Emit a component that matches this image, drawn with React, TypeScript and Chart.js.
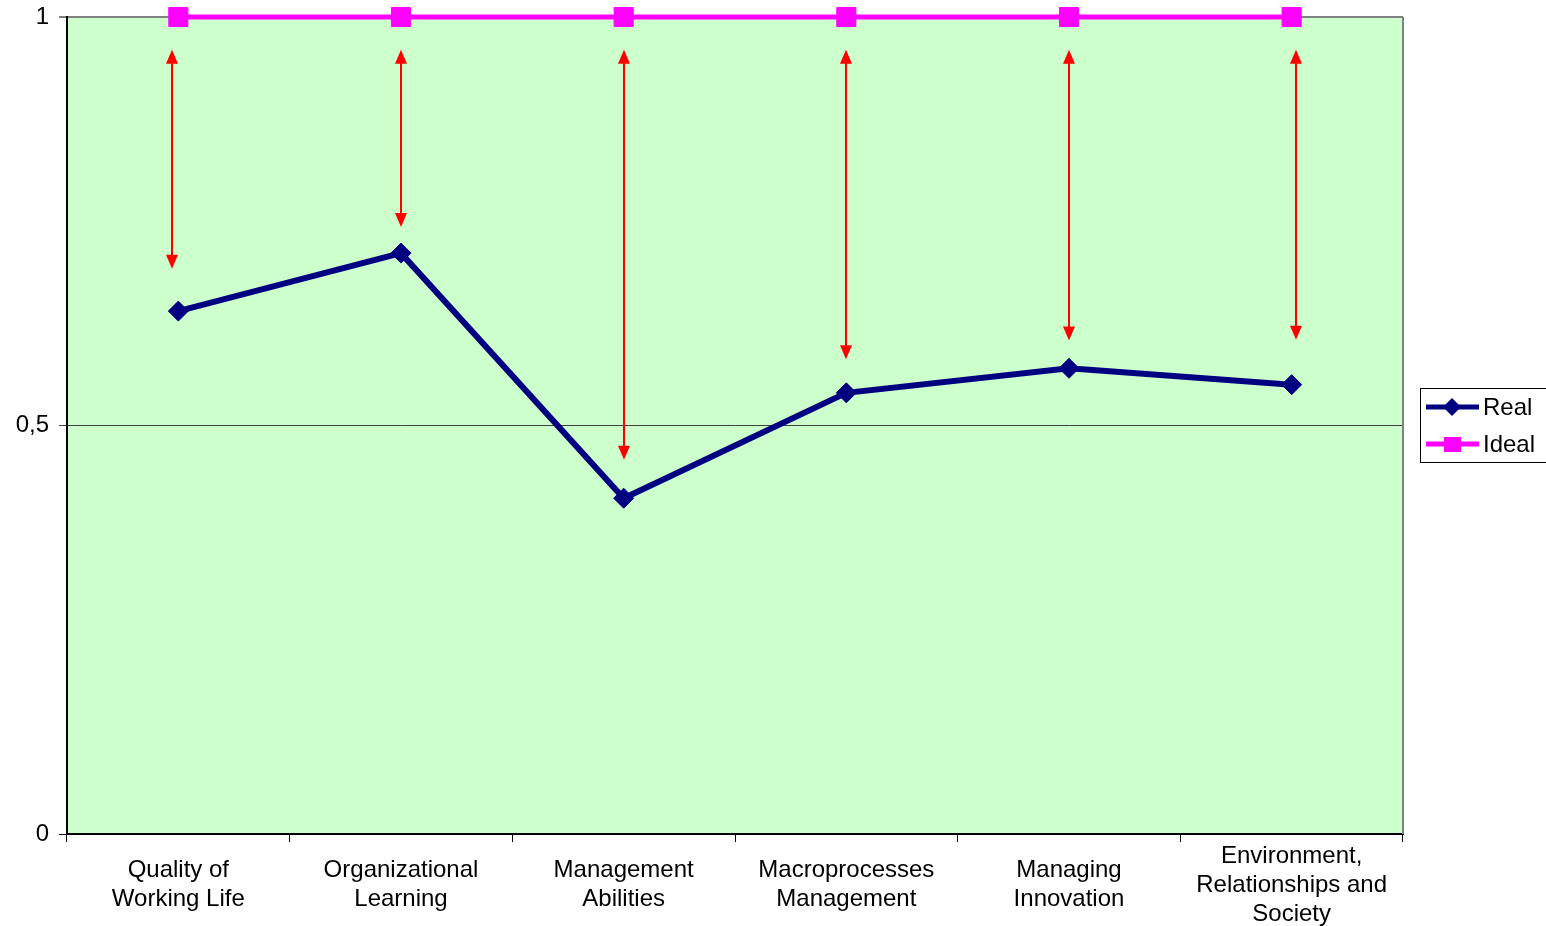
import React, { useEffect, useRef } from "react";
import { Chart, registerables } from "chart.js";

Chart.register(...registerables);

const categories: string[][] = [
  ["Quality of", "Working Life"],
  ["Organizational", "Learning"],
  ["Management", "Abilities"],
  ["Macroprocesses", "Management"],
  ["Managing", "Innovation"],
  ["Environment,", "Relationships and", "Society"],
];
const realValues = [0.64, 0.711, 0.411, 0.54, 0.57, 0.55];
const idealValues = [1, 1, 1, 1, 1, 1];
const yTicks = [0, 0.5, 1];
const yTickLabels = ["0", "0,5", "1"];
// gap arrows (data units): category position, top value, bottom value
const arrowPos = [-0.03, 1, 2, 3, 4, 5.02];
const arrowTop = [0.96, 0.96, 0.96, 0.96, 0.96, 0.96];
const arrowBottom = [0.692, 0.743, 0.458, 0.581, 0.604, 0.605];

const FONT = "'Liberation Sans', Arial, sans-serif";
const FS = 24;

function drawArrowHead(ctx: CanvasRenderingContext2D, x: number, y: number, dir: number) {
  ctx.beginPath();
  ctx.moveTo(x, y);
  ctx.lineTo(x - 6, y + dir * 14);
  ctx.lineTo(x + 6, y + dir * 14);
  ctx.closePath();
  ctx.fill();
}

const decorPlugin = {
  id: "decor",
  beforeDraw(chart: any) {
    const { ctx, chartArea: a } = chart;
    ctx.save();
    ctx.fillStyle = "#CCFFCC";
    ctx.fillRect(a.left, a.top, a.right - a.left, a.bottom - a.top);
    ctx.restore();
  },
  afterDatasetsDraw(chart: any) {
    const { ctx, chartArea: a } = chart;
    const xs = chart.scales.x;
    const ys = chart.scales.y;
    ctx.save();
    // right border
    ctx.strokeStyle = "#808080";
    ctx.lineWidth = 2;
    ctx.beginPath();
    ctx.moveTo(a.right, a.top);
    ctx.lineTo(a.right, a.bottom);
    ctx.stroke();
    // arrows
    ctx.strokeStyle = "#FF0000";
    ctx.fillStyle = "#FF0000";
    ctx.lineWidth = 2;
    arrowPos.forEach((p, i) => {
      const x = Math.round(xs.getPixelForValue(p));
      const yt = ys.getPixelForValue(arrowTop[i]);
      const yb = ys.getPixelForValue(arrowBottom[i]);
      ctx.beginPath();
      ctx.moveTo(x, yt + 10);
      ctx.lineTo(x, yb - 10);
      ctx.stroke();
      drawArrowHead(ctx, x, yt, 1);
      drawArrowHead(ctx, x, yb, -1);
    });
    ctx.restore();
  },
  afterDraw(chart: any) {
    const { ctx } = chart;
    ctx.save();
    ctx.strokeStyle = "#000";
    ctx.lineWidth = 1;
    ctx.strokeRect(1420.5, 388.5, 130, 74);
    const rows = [407, 444];
    chart.data.datasets.forEach((ds: any, i: number) => {
      const y = rows[i];
      ctx.strokeStyle = ds.borderColor;
      ctx.lineWidth = 5;
      ctx.beginPath();
      ctx.moveTo(1426, y);
      ctx.lineTo(1479, y);
      ctx.stroke();
      ctx.fillStyle = ds.borderColor;
      if (ds.pointStyle === "rectRot") {
        ctx.beginPath();
        ctx.moveTo(1452, y - 9);
        ctx.lineTo(1461, y);
        ctx.lineTo(1452, y + 9);
        ctx.lineTo(1443, y);
        ctx.closePath();
        ctx.fill();
      } else {
        ctx.fillRect(1444, y - 7, 17, 15);
      }
      ctx.fillStyle = "#000";
      ctx.font = `${FS}px ${FONT}`;
      ctx.textBaseline = "middle";
      ctx.textAlign = "left";
      ctx.fillText(ds.label, 1483, y + 1);
    });
    ctx.restore();
  },
};

export default function App() {
  const ref = useRef<HTMLCanvasElement | null>(null);
  useEffect(() => {
    if (!ref.current) return;
    Chart.defaults.font.family = FONT;
    const chart = new Chart(ref.current, {
      type: "line",
      data: {
        labels: categories as any,
        datasets: [
          {
            label: "Real",
            data: realValues,
            borderColor: "#000080",
            backgroundColor: "#000080",
            borderWidth: 6,
            pointStyle: "rectRot",
            pointRadius: 10,
            pointBorderWidth: 1,
            pointBackgroundColor: "#000080",
            pointBorderColor: "#000080",
            tension: 0,
            clip: false as any,
          },
          {
            label: "Ideal",
            data: idealValues,
            borderColor: "#FF00FF",
            backgroundColor: "#FF00FF",
            borderWidth: 5,
            pointStyle: "rect",
            pointRadius: 13.5,
            pointBorderWidth: 1,
            pointBackgroundColor: "#FF00FF",
            pointBorderColor: "#FF00FF",
            tension: 0,
            clip: false as any,
          },
        ],
      },
      options: {
        animation: false,
        responsive: false,
        devicePixelRatio: 1,
        layout: { padding: { top: 17, right: 143, left: 0, bottom: 0 } },
        plugins: { legend: { display: false }, tooltip: { enabled: false } },
        scales: {
          x: {
            type: "category",
            offset: true,
            grid: {
              offset: true,
              drawOnChartArea: false,
              drawTicks: true,
              tickLength: 8,
              color: "#000",
              lineWidth: 1,
            },
            border: { display: true, color: "#000", width: 2 },
            ticks: {
              color: "#000",
              font: { size: FS, lineHeight: 29 / FS, family: FONT },
              padding: 14,
              maxRotation: 0,
              autoSkip: false,
              crossAlign: "center",
            } as any,
            afterFit(scale: any) {
              scale.height = 92;
              scale.paddingLeft = 0;
              scale.paddingRight = 0;
            },
          },
          y: {
            type: "linear",
            min: 0,
            max: 1,
            afterBuildTicks(scale: any) {
              scale.ticks = yTicks.map((v) => ({ value: v }));
            },
            grid: {
              drawTicks: true,
              tickLength: 8,
              color: (c: any) =>
                c.tick && c.tick.value === 1 ? "#808080" : c.tick && c.tick.value === 0.5 ? "#404040" : "#000",
              lineWidth: (c: any) => (c.tick && c.tick.value === 1 ? 2 : 1),
            },
            border: { display: true, color: "#000", width: 2 },
            ticks: {
              color: "#000",
              font: { size: FS, family: FONT },
              padding: 10,
              callback: (v: any) => {
                const i = yTicks.indexOf(Number(v));
                return i >= 0 ? yTickLabels[i] : "";
              },
            },
            afterFit(scale: any) {
              scale.width = 67;
              scale.paddingTop = 0;
              scale.paddingBottom = 0;
            },
          },
        },
      },
      plugins: [decorPlugin],
    });
    return () => chart.destroy();
  }, []);
  return (
    <div style={{ position: "fixed", left: 0, top: 0, width: 1546, height: 926, background: "#fff" }}>
      <canvas ref={ref} width={1546} height={926} style={{ width: 1546, height: 926, display: "block" }} />
    </div>
  );
}
